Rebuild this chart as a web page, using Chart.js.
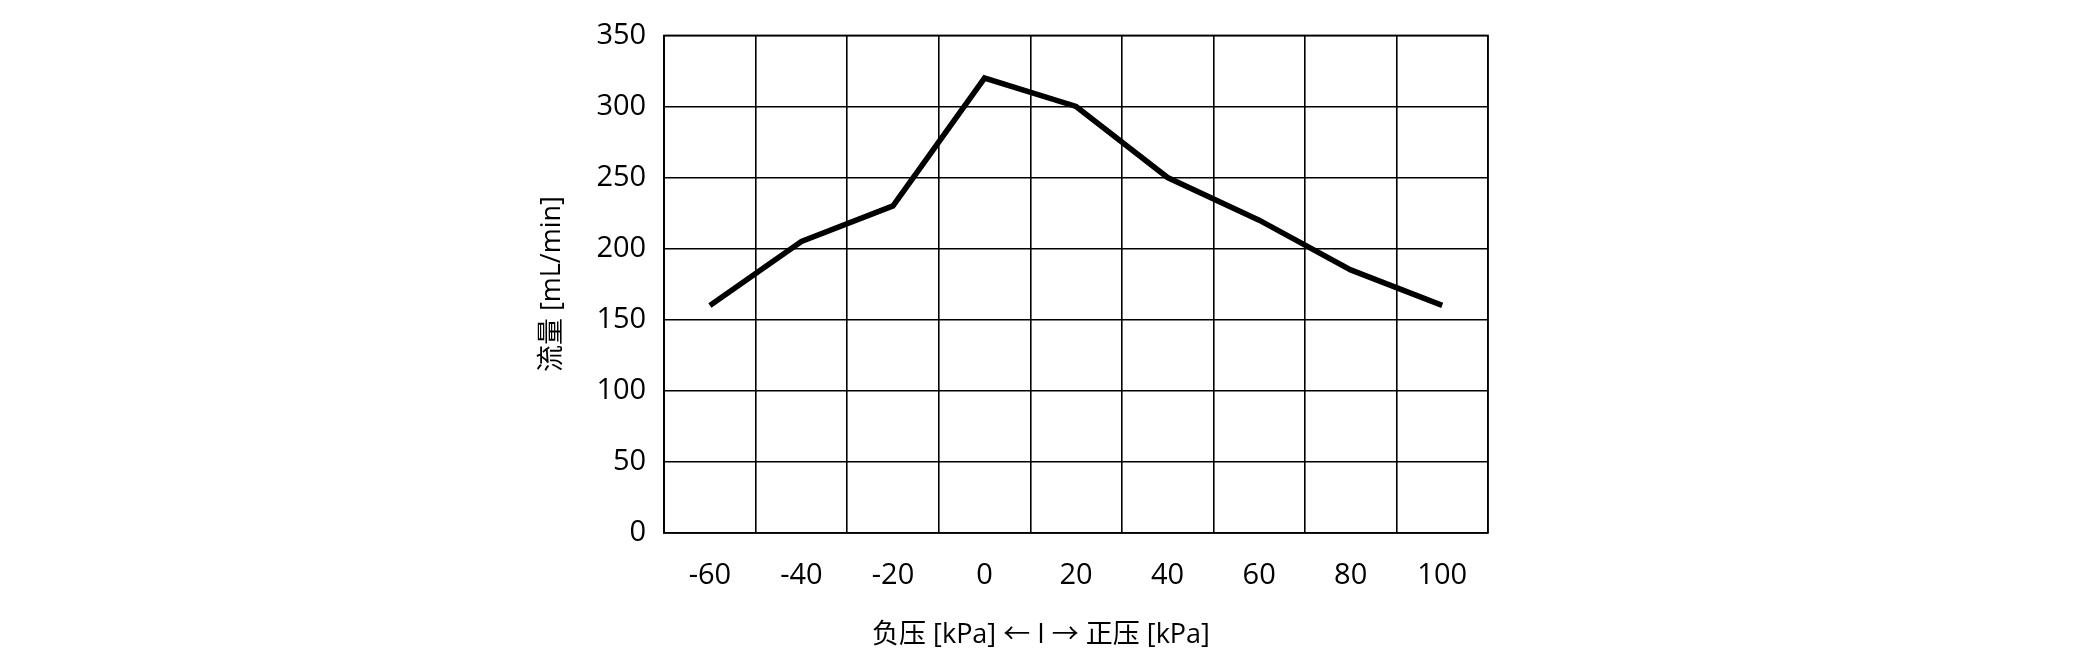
<!DOCTYPE html>
<html>
<head>
<meta charset="utf-8">
<script src="https://cdn.jsdelivr.net/npm/chart.js@4"></script>
<style>
  html, body { margin: 0; padding: 0; background: #fff; }
  #wrap { width: 2080px; height: 668px; }
</style>
</head>
<body>
<div id="wrap"><canvas id="flowChart" width="2080" height="668"></canvas></div>
<script>
const pressureLabels = ['-60', '-40', '-20', '0', '20', '40', '60', '80', '100'];
const flowValues = [160, 205, 230, 320, 300, 250, 220, 185, 160];
const yTicks = [0, 50, 100, 150, 200, 250, 300, 350];

const tickFont = { family: "'Open Sans', 'Noto Sans', sans-serif", size: 29 };
const titleFont = { family: "'Open Sans', 'Noto Sans CJK SC', sans-serif", size: 27 };

document.addEventListener('DOMContentLoaded', () => {
  const ctx = document.getElementById('flowChart').getContext('2d');
  new Chart(ctx, {
    type: 'line',
    data: {
      labels: pressureLabels,
      datasets: [{
        data: flowValues,
        borderColor: '#000',
        borderWidth: 5.5,
        pointRadius: 0,
        tension: 0,
        fill: false
      }]
    },
    options: {
      responsive: false,
      animation: false,
      layout: { padding: { left: 532, right: 592, top: 29, bottom: 12 } },
      plugins: { legend: { display: false }, tooltip: { enabled: false } },
      scales: {
        x: {
          offset: true,
          grid: { offset: true, color: '#000', lineWidth: 1.6, drawTicks: false },
          border: { color: '#000', width: 1.6 },
          ticks: { color: '#000', font: tickFont, padding: 26, maxRotation: 0 },
          title: { display: true, text: '负压 [kPa] ← I → 正压 [kPa]          ', color: '#000', font: titleFont, padding: { top: 0 } }
        },
        y: {
          min: 0,
          max: 350,
          afterBuildTicks: axis => { axis.ticks = yTicks.map(v => ({ value: v })); },
          grid: { color: '#000', lineWidth: 1.6, drawTicks: false },
          border: { color: '#000', width: 1.6 },
          ticks: { color: '#000', font: tickFont, padding: 18 },
          title: { display: true, text: '流量 [mL/min]', color: '#000', font: titleFont, padding: { bottom: 10 } }
        }
      }
    },
    plugins: [{
      id: 'frame',
      afterDraw(chart) {
        const a = chart.chartArea, c = chart.ctx;
        c.save();
        c.strokeStyle = '#000';
        c.lineWidth = 1.6;
        c.strokeRect(a.left, a.top, a.right - a.left, a.bottom - a.top);
        c.restore();
      }
    }]
  });
});
</script>
</body>
</html>
